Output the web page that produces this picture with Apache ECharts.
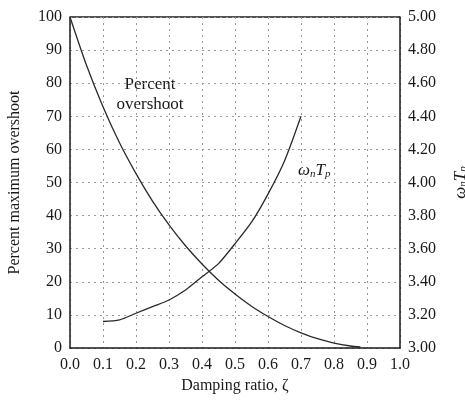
<!DOCTYPE html>
<html>
<head>
<meta charset="utf-8">
<script src="https://cdn.jsdelivr.net/npm/echarts@6/dist/echarts.min.js"></script>
<style>
  html, body { margin: 0; padding: 0; background: #fff; }
</style>
</head>
<body>
<div id="chart" style="width:465px;height:405px;"></div>
<script>
// values
var zetaOvershoot = [0, 0.05, 0.1, 0.15, 0.2, 0.25, 0.3, 0.35, 0.4, 0.45, 0.5, 0.55, 0.6, 0.65, 0.7, 0.75, 0.8, 0.85, 0.88];
var overshoot = [100, 85.4, 72.9, 62.0, 52.7, 44.4, 37.2, 30.9, 25.4, 20.5, 16.3, 12.6, 9.5, 6.8, 4.6, 2.8, 1.5, 0.6, 0.3];
var zetaPeak = [0.1, 0.15, 0.2, 0.25, 0.3, 0.35, 0.4, 0.45, 0.5, 0.55, 0.6, 0.65, 0.7];
var wnTp = [3.16, 3.17, 3.21, 3.25, 3.29, 3.35, 3.43, 3.51, 3.63, 3.76, 3.93, 4.13, 4.40];

var serif = 'Liberation Serif';
var ink = '#1a1a1a';

function pairs(xs, ys) {
  return xs.map(function (x, i) { return [x, ys[i]]; });
}

var chart = echarts.init(document.getElementById('chart'));
var option = {
  backgroundColor: '#fff',
  animation: false,
  grid: { left: 70, right: 65, top: 17, bottom: 57, outerBoundsMode: 'none', containLabel: false },
  xAxis: {
    type: 'value', min: 0, max: 1, interval: 0.1,
    name: 'Damping ratio, ζ', nameLocation: 'middle', nameGap: 30,
    nameTextStyle: { fontFamily: serif, fontSize: 16, color: ink },
    axisLine: { show: true, lineStyle: { color: ink, width: 1.5 } },
    axisTick: { show: false },
    axisLabel: { fontFamily: serif, fontSize: 16, color: ink, margin: 9,
      formatter: function (v) { return v.toFixed(1); } },
    splitLine: { show: true, lineStyle: { color: '#999', type: [2, 4], width: 1 } }
  },
  yAxis: [
    {
      type: 'value', min: 0, max: 100, interval: 10, position: 'left',
      name: 'Percent maximum overshoot', nameLocation: 'middle', nameGap: 47,
      nameTextStyle: { fontFamily: serif, fontSize: 16, color: ink },
      axisLine: { show: true, lineStyle: { color: ink, width: 1.5 } },
      axisTick: { show: false },
      axisLabel: { fontFamily: serif, fontSize: 16, color: ink, margin: 8 },
      splitLine: { show: true, lineStyle: { color: '#999', type: [2, 4], width: 1 } }
    },
    {
      type: 'value', min: 3, max: 5, interval: 0.2, position: 'right',
      name: '{i|ω}{s|n}{i|T}{s|p}', nameLocation: 'middle', nameGap: 52, nameRotate: 90,
      nameTextStyle: {
        fontFamily: serif, fontSize: 17, color: ink,
        rich: {
          i: { fontFamily: serif, fontStyle: 'italic', fontSize: 17, color: ink },
          s: { fontFamily: serif, fontStyle: 'italic', fontSize: 11, color: ink, verticalAlign: 'bottom', padding: [6, 0, 0, 0] }
        }
      },
      axisLine: { show: true, lineStyle: { color: ink, width: 1.5 } },
      axisTick: { show: false },
      axisLabel: { fontFamily: serif, fontSize: 16, color: ink, margin: 8,
        formatter: function (v) { return v.toFixed(2); } },
      splitLine: { show: false }
    }
  ],
  graphic: [
    { type: 'line', shape: { x1: 70, y1: 17, x2: 400, y2: 17 }, style: { stroke: ink, lineWidth: 1.5 } },
    { type: 'text', x: 150, y: 76, style: { text: 'Percent', fontFamily: serif, fontSize: 17, fill: ink, align: 'center' } },
    { type: 'text', x: 150, y: 96, style: { text: 'overshoot', fontFamily: serif, fontSize: 17, fill: ink, align: 'center' } },
    { type: 'text', left: 298, top: 162, style: {
      text: '{i|ω}{s|n}{i|T}{s|p}',
      rich: {
        i: { fontFamily: serif, fontStyle: 'italic', fontSize: 17, fill: ink },
        s: { fontFamily: serif, fontStyle: 'italic', fontSize: 11, fill: ink, padding: [8, 0, 0, 0] }
      }
    } }
  ],
  series: [
    {
      type: 'line', yAxisIndex: 0, data: pairs(zetaOvershoot, overshoot),
      smooth: 0.25, showSymbol: false,
      lineStyle: { color: '#2a2a2a', width: 1.3 }
    },
    {
      type: 'line', yAxisIndex: 1, data: pairs(zetaPeak, wnTp),
      smooth: 0.25, showSymbol: false,
      lineStyle: { color: '#2a2a2a', width: 1.3 }
    }
  ]
};
chart.setOption(option);
</script>
</body>
</html>
